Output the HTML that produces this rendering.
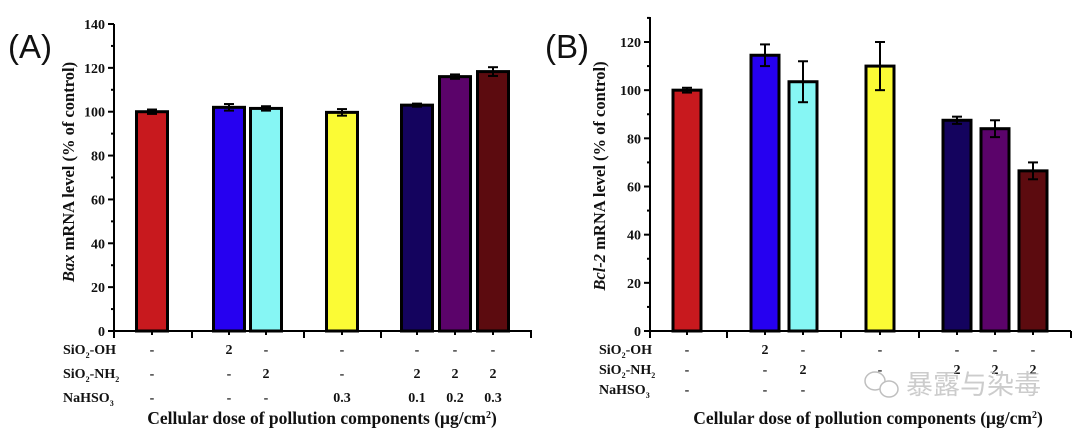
<!DOCTYPE html>
<html><head><meta charset="utf-8">
<style>
html,body{margin:0;padding:0;background:#fff;width:1080px;height:434px;overflow:hidden}
svg{display:block}
text{font-family:"Liberation Serif",serif;font-weight:bold;fill:#111}
</style></head>
<body>
<svg id="fig" width="1080" height="434" viewBox="0 0 1080 434" xmlns="http://www.w3.org/2000/svg"></svg>
<script>
const colorsA = ["#c8191e","#2600f0","#86f6f4","#fbfb35","#14035e","#5b036a","#5c0b0f"];
const categories = ["control","SiO2-OH","SiO2-NH2","NaHSO3","NH2+0.1","NH2+0.2","NH2+0.3"];
const bax = [100,102,101.5,99.7,103,116,118.3];
const baxErr = [1,1.5,1,1.5,0.7,1,2];
const bcl2 = [100,114.5,103.5,110,87.5,84,66.5];
const bcl2Err = [1,4.5,8.5,10,1.5,3.5,3.5];
const ticksA = [0,20,40,60,80,100,120,140];
const ticksB = [0,20,40,60,80,100,120];
const rowOH = ["-","2","-","-","-","-","-"];
const rowNH2 = ["-","-","2","-","2","2","2"];
const rowNaA = ["-","-","-","0.3","0.1","0.2","0.3"];
const rowNaB = ["-","-","-","","","",""];

const svg=document.getElementById('fig');
const NS="http://www.w3.org/2000/svg";
function mk(tag,attrs,parent){const e=document.createElementNS(NS,tag);for(const k in attrs)e.setAttribute(k,attrs[k]);(parent||svg).appendChild(e);return e;}

function panel(cfg){
  const g=mk('g',{});
  
  
  const y=v=>cfg.y0-(v/cfg.ymax)*(cfg.y0-cfg.ytop);
  const x=i=>cfg.centers[i];
  cfg.vals.forEach((v,i)=>{
    const r=mk('rect',{x:x(i)-cfg.bw/2,y:y(v),width:cfg.bw,height:cfg.y0-y(v),fill:colorsA[i],stroke:'#000','stroke-width':3},g);
    
    
    const e=cfg.errs[i];
    const eg=mk('g',{stroke:'#000','stroke-width':2},g);
    
    
    mk('line',{x1:x(i),x2:x(i),y1:y(v+e),y2:y(v-e)},eg);
    mk('line',{x1:x(i)-5,x2:x(i)+5,y1:y(v+e),y2:y(v+e)},eg);
    mk('line',{x1:x(i)-5,x2:x(i)+5,y1:y(v-e),y2:y(v-e)},eg);
  });
  const ax=mk('g',{stroke:'#000','stroke-width':2},g);
  
  
  mk('line',{x1:cfg.ax,x2:cfg.ax,y1:cfg.axTop,y2:cfg.y0+1},ax);
  mk('line',{x1:cfg.ax-1,x2:cfg.axEnd,y1:cfg.y0,y2:cfg.y0},ax);
  cfg.ticks.forEach(t=>{
    mk('line',{x1:cfg.ax-6,x2:cfg.ax,y1:y(t),y2:y(t)},ax);
    if(y(t+10)>=cfg.axTop-1) mk('line',{x1:cfg.ax-3,x2:cfg.ax,y1:y(t+10),y2:y(t+10)},ax);
    const tl=mk('text',{x:cfg.ax-9,y:y(t)+5,'text-anchor':'end','font-size':14},g);
    tl.textContent=t;
    
    
  });
  cfg.major.forEach(mx=>mk('line',{x1:mx,x2:mx,y1:cfg.y0,y2:cfg.y0+7},ax));
  cfg.centers.forEach(cx=>mk('line',{x1:cx,x2:cx,y1:cfg.y0,y2:cfg.y0+4},ax));
  const rows=[[cfg.lblOH,rowOH,cfg.rowY[0]],[cfg.lblNH,rowNH2,cfg.rowY[1]],[cfg.lblNa,cfg.rowNa,cfg.rowY[2]]];
  rows.forEach((r,ri)=>{
    const lt=mk('text',{x:cfg.lblX,y:r[2],'font-size':14},g);
    lt.innerHTML=r[0];
    
    
    r[1].forEach((s,i)=>{
      const t=mk('text',{x:x(i),y:r[2],'text-anchor':'middle','font-size':14},g);
      t.textContent=s;
      
      
    });
  });
  const xt=mk('text',{x:cfg.titleX,y:424,'text-anchor':'middle','font-size':17.5},g);
  xt.innerHTML='Cellular dose of pollution components (μg/cm<tspan dy="-6" font-size="10">2</tspan><tspan dy="6">)</tspan>';
  
  
  const yt=mk('text',{x:0,y:0,'text-anchor':'middle','font-size':16.5,transform:`translate(${cfg.ytX},${cfg.ytY}) rotate(-90)`},g);
  yt.innerHTML=cfg.ytitle;
  
  
  const pl=mk('text',{x:cfg.plX,y:58,'font-size':33,style:'font-family:"Liberation Sans",sans-serif;font-weight:normal'},g);
  pl.textContent=cfg.plabel;
  
  
}
const sub='SiO<tspan dy="4" font-size="8">2</tspan><tspan dy="-4">';
panel({name:'panel-a-bax',vals:bax,errs:baxErr,ticks:ticksA,ymax:140,y0:331,ytop:24,axTop:24,ax:114,axEnd:532,
  centers:[152,229,266,342,417,455,493],bw:31,major:[114,192,304,381,531],
  lblX:63,rowY:[354,378,402],rowNa:rowNaA,
  lblOH:sub+'-OH</tspan>',lblNH:sub+'-NH</tspan><tspan dy="4" font-size="8">2</tspan>',lblNa:'NaHSO<tspan dy="4" font-size="8">3</tspan>',
  titleX:322,ytX:74,ytY:172,ytitle:'<tspan font-style="italic">Bax</tspan> mRNA level (% of control)',plX:8,plabel:'(A)'});
panel({name:'panel-b-bcl2',vals:bcl2,errs:bcl2Err,ticks:ticksB,ymax:120,y0:331,ytop:42,axTop:17,ax:650,axEnd:1071,
  centers:[687,765,803,880,957,995,1033],bw:28,major:[650,727,841,919,1071],
  lblX:599,rowY:[354,374,394],rowNa:rowNaB,
  lblOH:sub+'-OH</tspan>',lblNH:sub+'-NH</tspan><tspan dy="4" font-size="8">2</tspan>',lblNa:'NaHSO<tspan dy="4" font-size="8">3</tspan>',
  titleX:868,ytX:605,ytY:176,ytitle:'<tspan font-style="italic">Bcl-2</tspan> mRNA level (% of control)',plX:545,plabel:'(B)'});
const wm=mk('g',{opacity:0.75});


mk('ellipse',{cx:875,cy:381,rx:10,ry:9,fill:'none',stroke:'#aaa','stroke-width':1.5},wm);
mk('ellipse',{cx:889,cy:389,rx:9,ry:8,fill:'#fff',stroke:'#aaa','stroke-width':1.5},wm);
const wt=mk('text',{x:906,y:394,'font-size':27,style:'font-family:"Noto Sans CJK SC",sans-serif;font-weight:normal;fill:#bbb'},wm);
wt.textContent='暴露与染毒';
</script>
</body></html>
